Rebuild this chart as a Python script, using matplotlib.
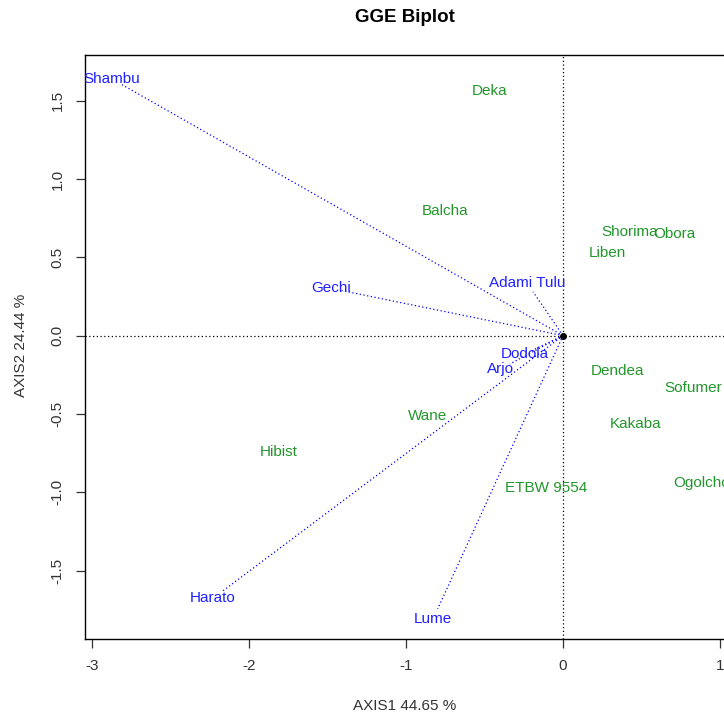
import numpy as np
import matplotlib
matplotlib.use("Agg")
import matplotlib.pyplot as plt

plt.rcParams['font.family'] = ['Liberation Sans', 'DejaVu Sans']

# environments (vectors from the origin)
env_names = ["Shambu", "Harato", "Lume", "Gechi", "Adami Tulu", "Dodola", "Arjo"]
env_x = [-2.873, -2.229, -0.828, -1.480, -0.231, -0.242, -0.401]
env_y = [1.638, -1.676, -1.808, 0.302, 0.338, -0.116, -0.214]

# genotypes
gen_names = ["Deka", "Balcha", "Shorima", "Obora", "Liben", "Dendea", "Sofumer",
             "Kakaba", "Ogolcho", "ETBW 9554", "Wane", "Hibist"]
gen_x = [-0.465, -0.752, 0.427, 0.709, 0.285, 0.348, 0.830,
         0.465, 0.885, -0.108, -0.860, -1.809]
gen_y = [1.562, 0.795, 0.664, 0.647, 0.530, -0.225, -0.332,
         -0.565, -0.942, -0.972, -0.512, -0.743]

xticks = [-3, -2, -1, 0, 1]
yticks = [-1.5, -1.0, -0.5, 0.0, 0.5, 1.0, 1.5]

W, H = 724, 715
fig = plt.figure(figsize=(W / 100, H / 100), dpi=100)
ax = fig.add_axes([85 / W, (H - 639) / H, (726 - 85) / W, (639 - 55) / H])
ax.set_xlim(-3.045, 1.038)
ax.set_ylim(-1.936, 1.791)

ax.axhline(0, color="black", lw=0.9, ls=(0, (1, 2)))
ax.axvline(0, color="black", lw=0.9, ls=(0, (1, 2)))

# dotted vectors, stopping a little short of the label
shorten = 0.07
for x, y in zip(env_x, env_y):
    r = np.hypot(x, y)
    f = 1 - shorten / r
    ax.plot([0, x * f], [0, y * f], color="blue", lw=0.9, ls=(0, (1, 2)))

ax.plot([0], [0], "o", color="black", ms=4)

for n, x, y in zip(env_names, env_x, env_y):
    ax.text(x, y, n, color="#2020ff", fontsize=11, ha="center", va="center", clip_on=True)
for n, x, y in zip(gen_names, gen_x, gen_y):
    ax.text(x, y, n, color="#22962a", fontsize=11, ha="center", va="center", clip_on=True)

ax.set_xticks(xticks)
ax.set_xticklabels([str(t) for t in xticks])
ax.set_yticks(yticks)
ax.set_yticklabels([f"{t:.1f}" for t in yticks])
ax.tick_params(direction="out", length=6.5, width=0.9, labelsize=11, pad=8, colors="#333333")
plt.setp(ax.get_yticklabels(), rotation=90, va="center")
for s in ax.spines.values():
    s.set_linewidth(1.0)

fig.text(405 / W, 1 - 18 / H, "GGE Biplot", fontsize=13.5, fontweight="bold",
         ha="center", va="center")
fig.text(405 / W, 1 - 706 / H, "AXIS1 44.65 %", fontsize=11, ha="center", va="center",
         color="#333333")
fig.text(21 / W, 1 - 345 / H, "AXIS2 24.44 %", fontsize=11, ha="center", va="center",
         rotation=90, color="#333333")

fig.savefig("out.png", dpi=100)
